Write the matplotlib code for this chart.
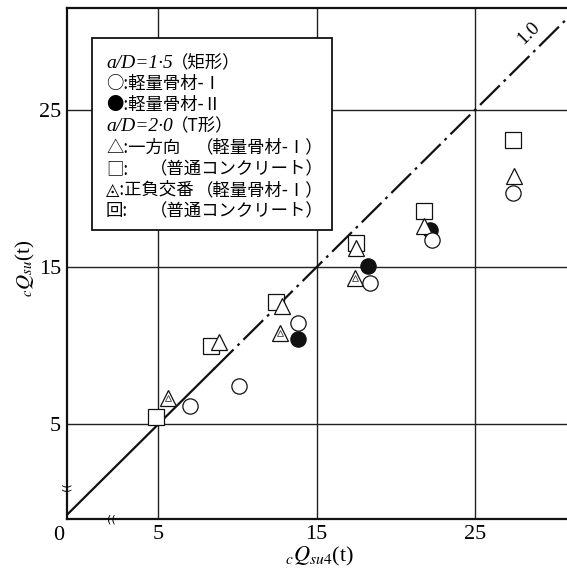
import matplotlib
matplotlib.use("Agg")
import matplotlib.pyplot as plt
from matplotlib.patches import Rectangle
import numpy as np

plt.rcParams['mathtext.fontset'] = 'stix'
plt.rcParams['lines.scale_dashes'] = False

# ---- data ----
circ_open_x = [7.0, 10.1, 13.8, 18.4, 22.3, 27.4]
circ_open_y = [6.15, 7.4, 11.45, 14.0, 16.7, 19.7]
circ_fill_x = [13.8, 18.25, 22.15]
circ_fill_y = [10.4, 15.05, 17.35]
tri_x = [8.8, 12.8, 17.5, 21.8, 27.5]
tri_y = [10.25, 12.5, 16.2, 17.6, 20.8]
sq_x = [4.85, 8.3, 12.45, 17.5, 21.8, 27.4]
sq_y = [5.45, 10.0, 12.8, 16.5, 18.6, 23.1]
tri_alt_x = [5.6, 12.7, 17.4]
tri_alt_y = [6.65, 10.8, 14.3]

ticks = [5, 15, 25]
tick_labels = ['5', '15', '25']
legend_lines = [
    ("a/D=1·5", "（矩形）", ""),
    ("", "○:軽量骨材-Ⅰ", ""),
    ("", "●:軽量骨材-Ⅱ", ""),
    ("a/D=2·0", "（T形）", ""),
    ("", "△:一方向", "（軽量骨材-Ⅰ）"),
    ("", "□:", "（普通コンクリート）"),
    ("", "◬:正負交番", "（軽量骨材-Ⅰ）"),
    ("", "回:", "（普通コンクリート）"),
]
ratio_label = "1.0"

W, H = 567, 570
fig = plt.figure(figsize=(W / 100, H / 100), dpi=100)
x0, y0, x1, y1 = 66.7, 519, 567, 8
ax = fig.add_axes([x0 / W, 1 - y0 / H, (x1 - x0) / W, (y0 - y1) / H])
ax.set_xlim(-0.8, 30.82)
ax.set_ylim(-1.05, 31.5)

for s in ['left', 'bottom', 'top']:
    ax.spines[s].set_linewidth(1.6)
    ax.spines[s].set_color('#111111')
ax.spines['right'].set_visible(False)

ax.set_xticks(ticks)
ax.set_xticklabels(tick_labels)
ax.set_yticks(ticks)
ax.set_yticklabels(tick_labels)
ax.tick_params(length=0, labelsize=16, pad=4)
for lab in ax.get_xticklabels() + ax.get_yticklabels():
    lab.set_family('Liberation Serif')
ax.grid(True, color='#222222', linewidth=1.0)
ax.set_axisbelow(True)

# 1:1 line
lx = np.array([-1.0, 8.5])
ax.plot(lx, lx, color='#111111', lw=1.6, zorder=2)
lx2 = np.array([8.5, 33.0])
ax.plot(lx2, lx2, color='#111111', lw=1.6, zorder=2,
        dashes=(20, 4, 2, 4))
ax.text(28.4, 29.9, ratio_label, rotation=45, ha='center', va='center',
        fontsize=14, family='Liberation Serif', zorder=5)

# markers
mk = dict(linestyle='none', markeredgecolor='#111111', markeredgewidth=0.9)
ax.plot(sq_x, sq_y, marker='s', ms=11, markerfacecolor='white', zorder=3, **mk)
ax.plot(circ_fill_x, circ_fill_y, marker='o', ms=11, markerfacecolor='#111111', zorder=4, **mk)
ax.plot(tri_x, tri_y, marker='^', ms=12, markerfacecolor='white', zorder=5, **mk)
ax.plot(tri_alt_x, tri_alt_y, marker='^', ms=12, markerfacecolor='white', zorder=5, **mk)
ax.plot(tri_alt_x, tri_alt_y, marker='^', ms=5, markerfacecolor='white',
        linestyle='none', markeredgecolor='#444444', markeredgewidth=0.6, zorder=5)
ax.plot(circ_open_x, circ_open_y, marker='o', ms=11, markerfacecolor='white', zorder=6, **mk)

# axis break marks
ax.text(2.0, -1.05, "((", ha='center', va='center', fontsize=8,
        family='DejaVu Sans', clip_on=False, zorder=7)
ax.text(-0.8, 1.0, "((", ha='center', va='center', fontsize=8, rotation=90,
        family='DejaVu Sans', clip_on=False, zorder=7)

# origin label
fig.text(59 / W, 1 - 535 / H, "0", ha='center', va='center', fontsize=16,
         family='Liberation Serif')

# axis labels
fig.text(320 / W, 1 - 556 / H, r"${}_{c}Q_{su4}$(t)", ha='center', va='center',
         fontsize=16, family='Liberation Serif')
fig.text(25 / W, 1 - 268 / H, r"${}_{c}Q_{su}$(t)", ha='center', va='center',
         fontsize=15, family='Liberation Serif', rotation=90)

# legend box
bx0, by0, bx1, by1 = 92, 38, 332, 230
rect = Rectangle((bx0 / W, 1 - by1 / H), (bx1 - bx0) / W, (by1 - by0) / H,
                 transform=fig.transFigure, facecolor='white', edgecolor='#111111',
                 linewidth=1.3, zorder=8, clip_on=False)
ax.add_patch(rect)
fams = ['Noto Sans CJK JP', 'DejaVu Sans']
ytop, dy = 63, 21.2
for i, (ital, left, right) in enumerate(legend_lines):
    yy = 1 - (ytop + i * dy) / H
    if ital:
        fig.text(106 / W, yy, ital, ha='left', va='center', fontsize=14,
                 family='Liberation Serif', style='italic', zorder=9)
        fig.text(171 / W, yy, left, ha='left', va='center', fontsize=12.5,
                 family=fams, zorder=9)
    else:
        fig.text(106 / W, yy, left, ha='left', va='center', fontsize=12.5,
                 family=fams, zorder=9)
    if right:
        fig.text(324 / W, yy, right, ha='right', va='center', fontsize=12.5,
                 family=fams, zorder=9)

fig.savefig('out.png', dpi=100)
